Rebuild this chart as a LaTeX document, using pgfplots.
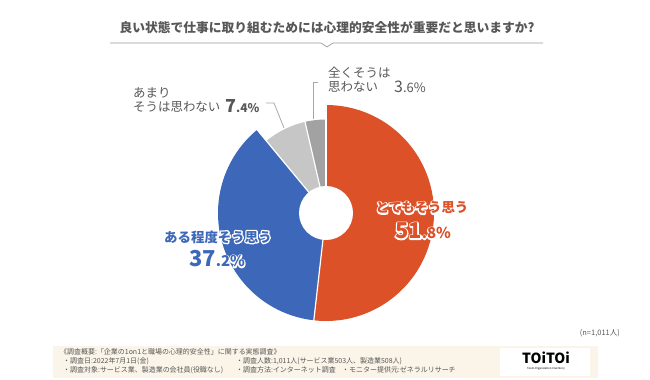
\documentclass[border=0pt]{standalone}
\usepackage{pgfplots}
\pgfplotsset{compat=1.18}
\usepackage{fontspec}
\setmainfont{Noto Sans CJK JP}
\definecolor{cRed}{HTML}{DC5128}
\definecolor{cBlue}{HTML}{3D67B8}
\definecolor{cLG}{HTML}{C6C6C6}
\definecolor{cDG}{HTML}{A2A2A2}
\definecolor{txt}{HTML}{575757}
\definecolor{beige}{HTML}{FBF5E9}
\newcommand\halo[3]{%
  \node[text=white] at (#1) {\special{pdf:literal direct 1 Tr 2.6 w 1 j}#3\special{pdf:literal direct 0 Tr}};
  \node[text=#2] at (#1) {#3};}
\begin{document}
\begin{tikzpicture}
% survey values (%)
\def\vA{51.8}\def\vB{37.2}\def\vC{7.4}\def\vD{3.6}
\pgfmathsetmacro\sA{90}
\pgfmathsetmacro\eA{\sA-3.6*\vA}
\pgfmathsetmacro\eB{\eA-3.6*\vB}
\pgfmathsetmacro\eC{\eB-3.6*\vC}
\pgfmathsetmacro\eD{\eC-3.6*\vD}
\begin{axis}[at={(0,0)},anchor=south west,width=650bp,height=380bp,scale only axis,
  xmin=0,xmax=650,ymin=0,ymax=380,y dir=reverse,hide axis,clip=false]
\fill[cRed] (axis cs:326,213) -- ++(\sA:108bp) arc[start angle=\sA,end angle=\eA,radius=108bp] -- cycle;
\fill[cBlue] (axis cs:326,213) -- ++(\eA:108bp) arc[start angle=\eA,end angle=\eB,radius=108bp] -- cycle;
\fill[cLG] (axis cs:326,213) -- ++(\eB:93.5bp) arc[start angle=\eB,end angle=\eC,radius=93.5bp] -- cycle;
\fill[cDG] (axis cs:326,213) -- ++(\eC:93.5bp) arc[start angle=\eC,end angle=\eD,radius=93.5bp] -- cycle;
\draw[white,line width=1.2bp] (axis cs:326,213) -- ++(\sA:110bp);
\draw[white,line width=1.2bp] (axis cs:326,213) -- ++(\eA:110bp);
\draw[white,line width=1.2bp] (axis cs:326,213) -- ++(\eB:110bp);
\draw[white,line width=1.2bp] (axis cs:326,213) -- ++(\eC:110bp);
\fill[white] (axis cs:326,213) circle[radius=27bp];
\end{axis}
\pgfresetboundingbox
\path (0,0) rectangle (650bp,380bp);
\begin{scope}[x=1bp,y=-1bp,shift={(0,380bp)}]
% title
\node[text=txt,font=\fontsize{12.8}{13}\selectfont\bfseries] at (327,28) {良い状態で仕事に取り組むためには心理的安全性が重要だと思いますか?};
\draw[gray!80,line width=0.7bp] (110,43) -- (321,43) -- (327,47) -- (333,43) -- (543,43);
% leaders
\draw[gray!70,line width=0.8bp] (266,103) -- (274,103) -- (284,128);
\draw[gray!70,line width=0.8bp] (318,82) -- (313,82) -- (313,119);
% gray labels
\begin{scope}[every node/.style={text=txt,inner sep=0pt,font=\fontsize{12.5}{13}\selectfont}]
\node[anchor=west] at (133,93) {あまり};
\node[anchor=west] at (133,107) {そうは思わない};
\node[anchor=west] at (225,106) {{\fontsize{18}{18}\selectfont\bfseries 7}{\fontsize{12}{12}\selectfont\bfseries .4\%}};
\node[anchor=west] at (328,73) {全くそうは};
\node[anchor=west] at (328,87) {思わない};
\node[anchor=west] at (394,86.5) {{\fontsize{16}{16}\selectfont 3}{\fontsize{13}{13}\selectfont .6\%}};
\end{scope}
% halo labels
\begin{scope}[every node/.style={inner sep=0pt,font=\fontsize{13.5}{14}\selectfont\bfseries}]
\halo{422,208}{cRed}{とてもそう思う}
\halo{423,231}{cRed}{{\fontsize{22}{22}\selectfont 51}{\fontsize{15}{15}\selectfont .8\%}}
\halo{218,237}{cBlue}{ある程度そう思う}
\halo{217,259}{cBlue}{{\fontsize{22}{22}\selectfont 37}{\fontsize{15}{15}\selectfont .2\%}}
\end{scope}
\node[anchor=east,text=txt,inner sep=0pt,font=\fontsize{7.5}{8}\selectfont] at (620,333) {(n=1,011人)};
% footer box
\fill[beige] (53,346) rectangle (598,378);
\fill[white] (500,348) rectangle (590,376);
\node[font=\fontsize{14}{14}\selectfont\bfseries,inner sep=0pt] at (546,358) {TOiTOi};
\node[font=\fontsize{2.8}{3}\selectfont,inner sep=0pt] at (546,369) {Team Organization Inventory};
\begin{scope}[every node/.style={anchor=west,text=txt,inner sep=0pt,font=\fontsize{7}{7}\selectfont}]
\node at (60,352) {《調査概要:「企業の1on1と職場の心理的安全性」に関する実態調査》};
\node at (63,361) {・調査日:2022年7月1日(金)};
\node at (236,361) {・調査人数:1,011人(サービス業503人、製造業508人)};
\node at (63,370) {・調査対象:サービス業、製造業の会社員(役職なし)};
\node at (236,370) {・調査方法:インターネット調査};
\node at (342,370) {・モニター提供元:ゼネラルリサーチ};
\end{scope}
\end{scope}
\end{tikzpicture}
\end{document}
